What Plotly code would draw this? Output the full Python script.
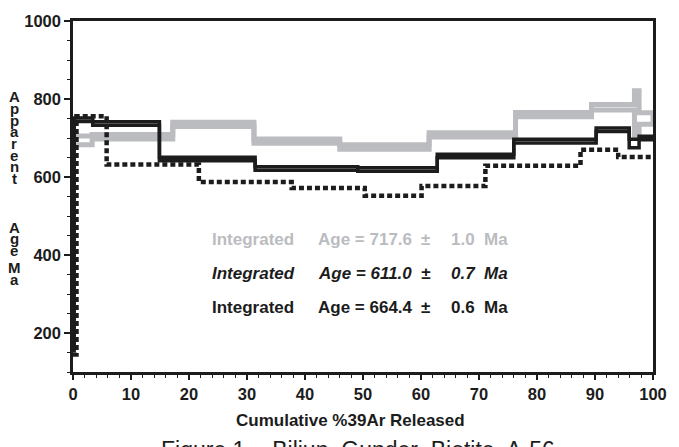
import plotly.graph_objects as go

# ---------------- data ----------------
# Solid black spectrum (Integrated Age = 664.4 ± 0.6 Ma)
solid_edges = [0, 0.2, 3.4, 14.9, 31.4, 49.1, 62.8, 76.0, 90.2, 95.9, 97.6, 100]
solid_ages = [160, 747, 737, 646, 622, 619, 654, 692, 721, 686, 700]
solid_errs = [4.5, 4.5, 4.5, 4.5, 4.5, 4.5, 4.5, 4.5, 4.5, 11, 4.5]

# Grey spectrum (Integrated Age = 717.6 ± 1.0 Ma)
grey_edges = [0, 3.3, 17.2, 31.2, 46.0, 61.4, 76.3, 89.4, 96.8, 97.6, 100]
grey_ages = [694, 703, 735, 692, 677, 708, 760, 779, 763, 750]
grey_errs = [11, 5.7, 5.7, 5.7, 5.7, 5.7, 5.7, 7, 58, 15]

# Dotted spectrum (Integrated Age = 611.0 ± 0.7 Ma)
dot_edges = [0, 0.6, 5.8, 21.7, 37.7, 50.3, 60.1, 71.1, 87.5, 94.0, 100]
dot_ages = [145, 756, 632, 587, 572, 552, 577, 629, 670, 651]

x_ticks = [0, 10, 20, 30, 40, 50, 60, 70, 80, 90, 100]
y_ticks = [200, 400, 600, 800, 1000]

results = [
    ("Integrated", "Age = 717.6", "±", "1.0", "Ma", "#bbbcbf", False),
    ("Integrated", "Age = 611.0", "±", "0.7", "Ma", "#1c1c1c", True),
    ("Integrated", "Age = 664.4", "±", "0.6", "Ma", "#1c1c1c", False),
]

y_label_words = ["Apparent", "Age", "Ma"]
x_title = "Cumulative %39Ar Released"
fig_caption = "Figure 1 -  Biliun  Gunder  Biotite  A-56"

GREY = "#bbbcbf"
BLACK = "#1c1c1c"
FONT = "Liberation Sans, Arial, sans-serif"

fig = go.Figure()


def add_band(edges, ages, errs, color, width):
    up = [a + e for a, e in zip(ages, errs)]
    lo = [a - e for a, e in zip(ages, errs)]
    xu = [edges[0]] + list(edges) + [edges[-1]]
    yu = [lo[0]] + up + [up[-1], lo[-1]]
    xl = list(edges)
    yl = lo + [lo[-1]]
    for xs, ys in ((xu, yu), (xl, yl)):
        fig.add_trace(go.Scatter(x=xs, y=ys, mode="lines", line_shape="hv",
                                 line=dict(color=color, width=width),
                                 hoverinfo="skip", showlegend=False))


add_band(grey_edges, grey_ages, grey_errs, GREY, 5)
add_band(solid_edges, solid_ages, solid_errs, BLACK, 3.5)
fig.add_trace(go.Scatter(x=dot_edges, y=dot_ages + [dot_ages[-1]], mode="lines",
                         line_shape="hv",
                         line=dict(color=BLACK, width=4.5, dash="5px,3px"),
                         hoverinfo="skip", showlegend=False))

W, H = 679, 447
L, R, T, B = 73, 22, 16, 75
pw, ph = W - L - R, H - T - B


def px_x(px):
    return (px - L) / pw


def px_y(py):
    return 1 - (py - T) / ph


annotations = []
row_y = [238, 272.5, 307]
col_x = [211, 318, 428, 452, 485]
for (a, b, c, d, e, col, ital), yy in zip(results, row_y):
    for txt, xx, anc in zip((a, b, c, d, e), col_x, ("left", "left", "center", "left", "left")):
        t = f"<b><i>{txt}</i></b>" if ital else f"<b>{txt}</b>"
        annotations.append(dict(text=t, x=px_x(xx), y=px_y(yy), xref="paper", yref="paper",
                                xanchor=anc, yanchor="middle", showarrow=False,
                                font=dict(family=FONT, size=17, color=col)))

# stacked y-axis label (one letter per line, tightly packed)
word_starts = [93, 225, 266]
pitch = 11.8
for word, y0 in zip(y_label_words, word_starts):
    for i, ch in enumerate(word):
        annotations.append(dict(text=f"<b>{ch}</b>", x=px_x(14), y=px_y(y0 + i * pitch),
                                xref="paper", yref="paper", xanchor="center", yanchor="middle",
                                showarrow=False,
                                font=dict(family=FONT, size=15, color=BLACK)))

annotations.append(dict(text=f"<b>{x_title}</b>", x=px_x(352), y=px_y(421.5), xref="paper",
                        yref="paper", xanchor="center", yanchor="middle", showarrow=False,
                        font=dict(family=FONT, size=17, color=BLACK)))
annotations.append(dict(text=fig_caption, x=px_x(360), y=px_y(451), xref="paper",
                        yref="paper", xanchor="center", yanchor="middle", showarrow=False,
                        font=dict(family=FONT, size=23, color=BLACK)))

fig.update_layout(
    width=W, height=H,
    margin=dict(l=L, r=R, t=T, b=B, pad=0),
    paper_bgcolor="white", plot_bgcolor="white",
    font=dict(family=FONT, color=BLACK),
    annotations=annotations,
    xaxis=dict(range=[0, 100], tickmode="array", tickvals=x_ticks,
               ticktext=[f"<b>{v}</b>" for v in x_ticks],
               ticks="outside", ticklen=5, tickwidth=1.5, tickcolor=BLACK,
               minor=dict(dtick=2, ticks="outside", ticklen=3, tickwidth=1, tickcolor=BLACK),
               showgrid=False, zeroline=False, showline=True, linewidth=2.5, linecolor=BLACK,
               mirror=True, tickfont=dict(size=16.5, family=FONT, color=BLACK)),
    yaxis=dict(range=[100, 1000], tickmode="array", tickvals=y_ticks,
               ticktext=[f"<b>{v}</b>" for v in y_ticks],
               ticks="outside", ticklen=6, tickwidth=1.5, tickcolor=BLACK,
               minor=dict(dtick=50, ticks="outside", ticklen=3, tickwidth=1, tickcolor=BLACK),
               showgrid=False, zeroline=False, showline=True, linewidth=2.5, linecolor=BLACK,
               mirror=True, tickfont=dict(size=16.5, family=FONT, color=BLACK)),
)

fig.write_html("out.html", config={"displayModeBar": False},
               post_script="document.body.style.margin='0';")
